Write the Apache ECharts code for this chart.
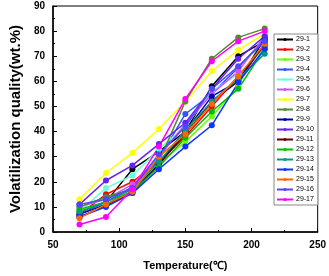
<!DOCTYPE html>
<html><head><meta charset="utf-8">
<script src="https://cdn.jsdelivr.net/npm/echarts@6/dist/echarts.min.js"></script>
<style>html,body{margin:0;padding:0;background:#fff}#c{width:329px;height:276px}</style>
</head><body><div id="c"></div>
<script>
const temps = [70, 90, 110, 130, 150, 170, 190, 210];
const names = ['29-1','29-2','29-3','29-4','29-5','29-6','29-7','29-8','29-9','29-10','29-11','29-12','29-13','29-14','29-15','29-16','29-17'];
const colors = ['#000000','#ff0000','#66ff00','#3355ff','#66ffdd','#cc55ff','#ffff00','#558833','#0000aa','#6622ee','#660000','#00bb00','#009988','#1133ff','#ff6600','#5544ff','#ff00ff'];
const s1 = [8, 12, 25, 32, 40, 58, 70, 76];
const s2 = [7, 15, 20, 28, 38, 50, 62, 74];
const s3 = [9, 11, 16, 27, 36, 46, 58, 79];
const s4 = [7, 12, 18, 29, 47, 55, 65.5, 77];
const s5 = [8, 17.5, 22.5, 33, 42, 56, 63, 73];
const s6 = [10, 13, 19, 30, 43, 55, 64, 78];
const s7 = [13, 23.5, 31.5, 41, 52, 64, 72.5, 79];
const s8 = [10, 14, 17, 28, 52, 69, 77.5, 81];
const s9 = [7, 11, 16, 27, 40, 54, 60, 77];
const s10 = [11, 20.5, 26.5, 35, 43.5, 57, 69, 78];
const s11 = [6, 10.5, 15.5, 27, 39, 52, 60, 75];
const s12 = [9, 12, 16, 26, 37.5, 48, 57, 73];
const s13 = [8, 12, 17, 28, 40.5, 52, 61, 71];
const s14 = [6, 10, 15.5, 25, 34, 42.5, 59.5, 73];
const s15 = [5.5, 11, 16, 30, 39, 51, 62, 75];
const s16 = [11, 13, 17.5, 31, 42, 57, 66, 76];
const s17 = [3, 6, 17, 34, 53, 68, 76, 80];
const values = [s1,s2,s3,s4,s5,s6,s7,s8,s9,s10,s11,s12,s13,s14,s15,s16,s17];

const chart = echarts.init(document.getElementById('c'));
const series = names.map((n, i) => ({
  name: n, type: 'line',
  data: temps.map((t, j) => [t, values[i][j]]),
  symbol: 'circle', symbolSize: 6,
  lineStyle: {width: 1.5, color: colors[i]},
  itemStyle: {color: colors[i]}
}));
const axisCommon = {
  axisLine: {show: true, lineStyle: {color: '#000', width: 1.5}},
  axisTick: {show: true, inside: true, length: 4, lineStyle: {color: '#000', width: 1}},
  minorTick: {show: true, splitNumber: 2, length: 2, lineStyle: {color: '#000'}},
  splitLine: {show: false},
  axisLabel: {color: '#000', fontFamily: 'Liberation Sans, Arial', fontWeight: 'bold', fontSize: 10}
};
chart.setOption({
  animation: false,
  grid: {left: 40, right: 11, top: 6, bottom: 44, show: true, borderColor: '#000', borderWidth: 1},
  xAxis: Object.assign({}, axisCommon, {
    type: 'value', min: 50, max: 250, interval: 50,
    name: 'Temperature(℃)', nameLocation: 'middle', nameGap: 28,
    nameTextStyle: {color: '#000', fontFamily: 'Liberation Sans, Arial', fontWeight: 'bold', fontSize: 11}
  }),
  yAxis: Object.assign({}, axisCommon, {
    type: 'value', min: 0, max: 90, interval: 10,
    name: 'Volatilization quality(wt.%)', nameLocation: 'middle', nameGap: 23,
    nameTextStyle: {color: '#000', fontFamily: 'Liberation Sans, Arial', fontWeight: 'bold', fontSize: 15}
  }),
  legend: {
    orient: 'vertical', left: 274, top: 34,
    itemWidth: 16, itemHeight: 4, itemGap: 3,
    padding: [2, 4, 2, 2],
    borderColor: '#888', borderWidth: 1, backgroundColor: '#fff',
    textStyle: {fontSize: 7, color: '#000', fontFamily: 'Liberation Sans, Arial', padding: [0,0,0,-2]},
    data: names
  },
  series: series
});
</script></body></html>
